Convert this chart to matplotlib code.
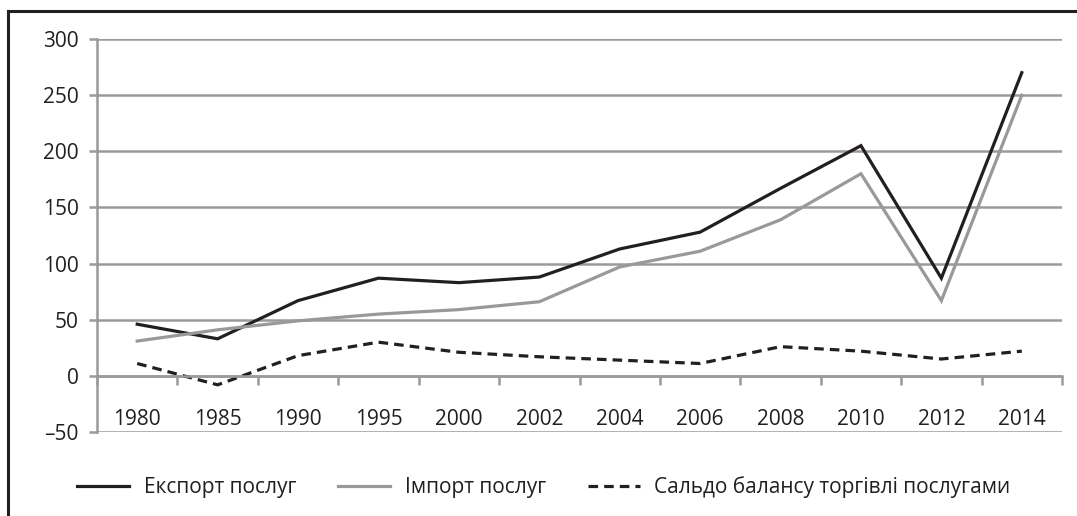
import matplotlib
matplotlib.use("Agg")
import matplotlib.pyplot as plt
from matplotlib.lines import Line2D
import numpy as np

years = ["1980", "1985", "1990", "1995", "2000", "2002", "2004",
         "2006", "2008", "2010", "2012", "2014"]
export = [46, 33, 67, 87, 83, 88, 113, 128, 167, 205, 87, 270]
imports = [31, 41, 49, 55, 59, 66, 97, 111, 139, 180, 67, 250]
balance = [11, -8, 18, 30, 21, 17, 14, 11, 26, 22, 15, 22]
labels = ["Експорт послуг", "Імпорт послуг", "Сальдо балансу торгівлі послугами"]

plt.rcParams['font.family'] = ['Open Sans', 'DejaVu Sans']
dark = '#231f20'
grid_c = '#9a9a9a'

fig = plt.figure(figsize=(10.77, 5.16), dpi=100)
ax = fig.add_axes([97/1077, (516-432)/516, (1062-97)/1077, (432-39)/516])

x = np.arange(len(years))
ax.plot(x, export, color=dark, lw=2.3, label=labels[0], solid_joinstyle='miter')
ax.plot(x, imports, color='#999999', lw=2.3, label=labels[1], solid_joinstyle='miter')
ax.plot(x, balance, color=dark, lw=2.3, dashes=(3.0, 1.9), label=labels[2])

ax.set_xlim(-0.5, len(years) - 0.5)
ax.set_ylim(-50, 300)
ax.set_yticks(np.arange(-50, 301, 50))
ax.set_yticklabels(["–50" if v < 0 else str(v) for v in range(-50, 301, 50)])
ax.yaxis.grid(True, color=grid_c, lw=1.8)
ax.set_axisbelow(True)

for s in ['top', 'right']:
    ax.spines[s].set_visible(False)
ax.spines['left'].set_color(grid_c)
ax.spines['left'].set_linewidth(1.8)
ax.spines['bottom'].set_position(('data', 0))
ax.spines['bottom'].set_color(grid_c)
ax.spines['bottom'].set_linewidth(1.8)

ax.set_xticks(x)
ax.set_xticklabels(years)
ax.set_xticks(np.arange(-0.5, len(years)), minor=True)
ax.tick_params(axis='x', which='major', length=0, pad=24, labelsize=15, labelcolor=dark)
ax.tick_params(axis='x', which='minor', length=6.5, width=1.8, color=grid_c)
ax.tick_params(axis='y', length=6, width=1.8, color=grid_c, labelsize=15,
               labelcolor=dark, pad=7)

fig.legend(loc='center', bbox_to_anchor=(544/1077, 1 - 487/516), ncol=3,
           frameon=False, fontsize=15, handlelength=2.5, handletextpad=0.7,
           columnspacing=2.0, labelcolor=dark)

# outer frame (top and left edges visible)
fig.add_artist(Line2D([8/1077, 8/1077], [0, 1 - 11/516], color=dark, lw=2.2,
                      transform=fig.transFigure, solid_capstyle='projecting'))
fig.add_artist(Line2D([8/1077, 1], [1 - 11/516, 1 - 11/516], color=dark, lw=2.2,
                      transform=fig.transFigure, solid_capstyle='projecting'))

fig.savefig("out.png", dpi=100)
